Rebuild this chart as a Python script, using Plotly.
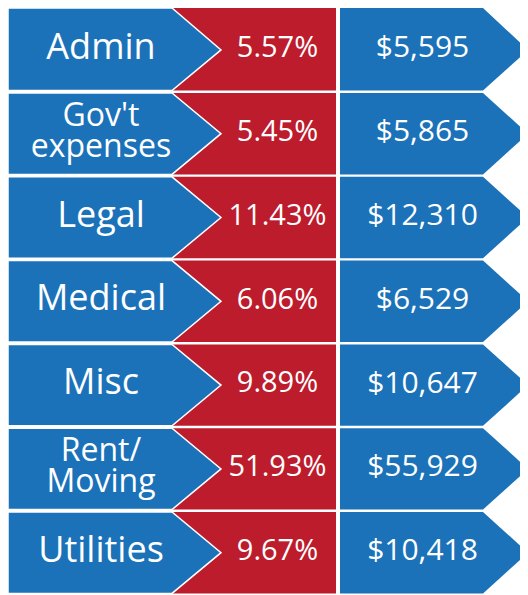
import plotly.graph_objects as go

# ---- data ----
categories = ["Admin", "Gov't<br>expenses", "Legal", "Medical", "Misc", "Rent/<br>Moving", "Utilities"]
percents = [5.57, 5.45, 11.43, 6.06, 9.89, 51.93, 9.67]
amounts = [5595, 5865, 12310, 6529, 10647, 55929, 10418]

# ---- layout constants (page pixels; the page body adds an 8px offset) ----
W, H = 528, 595
PAGE_OFF = 8
TOP = 8
ROW_H = 83.8
GAP = 1.2
X0 = 8          # left edge of label cells
XN = 172        # notch x of label arrow
XT = 221        # tip of label arrow
XR = 336        # right edge of red column
XB0 = 340       # left edge of amount cells
XBN = 483       # notch of amount arrow
XBT = 528       # tip of amount arrow

BLUE = "#1b72b9"
RED = "#bc1c2c"
FONT = "Open Sans"

fig = go.Figure()

n = len(categories)
for i in range(n):
    top = TOP + i * ROW_H + (GAP if i > 0 else 0)
    bot = TOP + (i + 1) * ROW_H - GAP
    mid = TOP + (i + 0.5) * ROW_H
    # red cell
    fig.add_trace(go.Scatter(
        x=[XN - 2, XR, XR, XN - 2, XN - 2], y=[top, top, bot, bot, top],
        fill="toself", fillcolor=RED, mode="lines", line=dict(width=0),
        hoverinfo="skip", showlegend=False))
    # blue label arrow
    fig.add_trace(go.Scatter(
        x=[X0, XN, XT, XN, X0, X0], y=[top, top, mid, bot, bot, top],
        fill="toself", fillcolor=BLUE, mode="lines",
        line=dict(width=1.5, color="white"),
        hoverinfo="skip", showlegend=False))
    # blue amount arrow
    fig.add_trace(go.Scatter(
        x=[XB0, XBN, XBT, XBN, XB0, XB0], y=[top, top, mid, bot, bot, top],
        fill="toself", fillcolor=BLUE, mode="lines", line=dict(width=0),
        hoverinfo="skip", showlegend=False))

mids = [TOP + (i + 0.5) * ROW_H for i in range(n)]
LABEL_X = (X0 + XN) / 2 + 11

# single-line labels
sx, sy, st = [], [], []
# two-line labels, line by line for tight leading
mx, my, mt = [], [], []
LINE = 31
for i, c in enumerate(categories):
    parts = c.split("<br>")
    k = len(parts)
    if k == 1:
        sx.append(LABEL_X); sy.append(mids[i]); st.append(parts[0])
    else:
        for j, p in enumerate(parts):
            mx.append(LABEL_X)
            my.append(mids[i] + (j - (k - 1) / 2) * LINE)
            mt.append(p)
fig.add_trace(go.Scatter(
    x=sx, y=sy, text=st, mode="text", textposition="middle center",
    textfont=dict(family=FONT, size=36, color="white"),
    hoverinfo="skip", showlegend=False))
fig.add_trace(go.Scatter(
    x=mx, y=my, text=mt, mode="text", textposition="middle center",
    textfont=dict(family=FONT, size=32, color="white"),
    hoverinfo="skip", showlegend=False))

fig.add_trace(go.Scatter(
    x=[(XT + XR) / 2 - 1] * n, y=mids,
    text=[f"{p:.2f}%" for p in percents], mode="text", textposition="middle center",
    textfont=dict(family=FONT, size=29, color="white"),
    hoverinfo="skip", showlegend=False))
fig.add_trace(go.Scatter(
    x=[(XB0 + XBN) / 2 + 11] * n, y=mids,
    text=[f"${a:,}" for a in amounts], mode="text", textposition="middle center",
    textfont=dict(family=FONT, size=30, color="white"),
    hoverinfo="skip", showlegend=False))

fig.update_layout(
    width=W, height=H,
    margin=dict(l=0, r=0, t=0, b=0),
    paper_bgcolor="white", plot_bgcolor="white",
    xaxis=dict(range=[PAGE_OFF, W + PAGE_OFF], visible=False, fixedrange=True),
    yaxis=dict(range=[H + PAGE_OFF, PAGE_OFF], visible=False, fixedrange=True),
)

fig.write_html("out.html", config={"displayModeBar": False})
